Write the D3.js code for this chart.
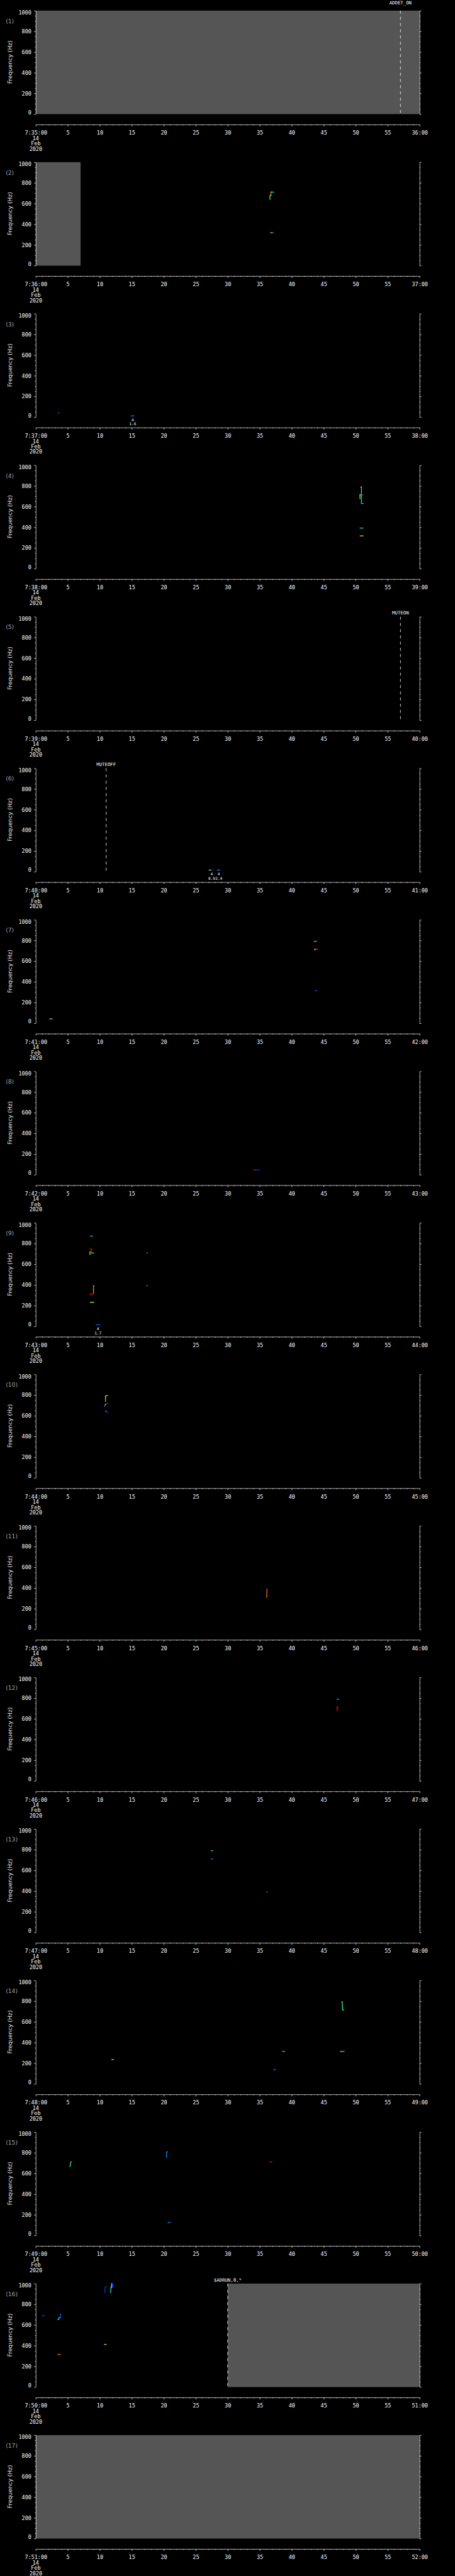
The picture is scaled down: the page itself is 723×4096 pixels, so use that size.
<!DOCTYPE html>
<html>
<head>
<meta charset="utf-8">
<script src="https://cdn.jsdelivr.net/npm/d3@7"></script>
<style>
  html, body { margin: 0; padding: 0; background: #000; }
  svg { display: block; }
</style>
</head>
<body>
<script>
// reference drawing size; the svg viewBox scales it down to the window
const W = 1024, H = 5802;

// one panel per minute
const startLabels = ["7:35:00","7:36:00","7:37:00","7:38:00","7:39:00","7:40:00","7:41:00","7:42:00","7:43:00",
                     "7:44:00","7:45:00","7:46:00","7:47:00","7:48:00","7:49:00","7:50:00","7:51:00"];
const endLabels = ["36:00","37:00","38:00","39:00","40:00","41:00","42:00","43:00","44:00",
                   "45:00","46:00","47:00","48:00","49:00","50:00","51:00","52:00"];
const dateLines = ["14", "Feb", "2020"];
const xMajor = [0, 5, 10, 15, 20, 25, 30, 35, 40, 45, 50, 55, 60];
const yTicks = [0, 200, 400, 600, 800, 1000];

// [panel, from s, to s]  no-data (gray) ranges
const grayRanges = [[1, 0, 60], [2, 0, 7], [16, 30, 60], [17, 0, 60]];

// [panel, second, text, row]  event markers
const events = [[1, 57, "ADDET_ON", 0], [5, 57, "MUTEON", 1], [6, 11, "MUTEOFF", 1], [16, 30, "$ADRUN,0,*", 1]];

// [panel, second, upper text, lower text]  small labels under low-frequency hits
const peakLabels = [[3, 15.15, "4", "1.6"], [6, 27.5, "4", "0.9"], [6, 28.6, "4", "2.4"], [9, 9.72, "4", "1.7"]];

// [panel, level 0..1, [[second, Hz], ...]]
const traces = [
  [2, 0.4, [[36.6, 642], [36.6, 678], [36.76, 678]]],
  [2, 0.8, [[36.76, 678], [36.76, 712], [36.9, 712]]],
  [2, 0.2, [[36.9, 710], [37.2, 710]]],
  [2, 0.7, [[36.7, 318], [37.05, 318]]],
  [2, 0.0, [[37.05, 316], [37.25, 316]]],

  [3, 0.05, [[3.5, 42], [3.65, 42]]],
  [3, 0.1, [[14.9, 12], [15.35, 12]]],

  [4, 0.45, [[50.67, 677], [50.67, 715], [50.85, 715]]],
  [4, 0.25, [[50.9, 789], [50.9, 630], [51.17, 630]]],
  [4, 0.65, [[50.8, 789], [50.92, 789]]],
  [4, 1.0, [[50.92, 712], [51.2, 712]]],
  [4, 0.3, [[50.7, 393], [51.15, 393]]],
  [4, 0.55, [[50.7, 317], [51.15, 317]]],

  [6, 0.55, [[27.1, 16], [27.4, 16]]],
  [6, 0.0, [[27.4, 16], [27.75, 16]]],
  [6, 0.2, [[28.4, 16], [28.6, 16]]],
  [6, 0.05, [[28.6, 16], [28.8, 16]]],

  [7, 0.95, [[2.1, 42], [2.3, 42]]],
  [7, 0.6, [[2.3, 43], [2.4, 43]]],
  [7, 0.15, [[2.4, 42], [2.6, 42]]],
  [7, 0.55, [[43.56, 793], [43.75, 793]]],
  [7, 0.1, [[43.75, 792], [43.95, 792]]],
  [7, 0.95, [[43.6, 716], [44.05, 716]]],
  [7, 0.6, [[43.6, 709], [43.65, 716]]],
  [7, 0.05, [[43.7, 314], [43.95, 314]]],

  [8, 1.0, [[34.03, 50], [34.3, 47]]],
  [8, 0.0, [[34.3, 47], [35.0, 47]]],

  [9, 0.2, [[8.55, 872], [8.85, 872]]],
  [9, 1.0, [[8.5, 748], [8.72, 748], [8.72, 708]]],
  [9, 0.6, [[8.45, 694], [8.5, 723]]],
  [9, 0.25, [[8.72, 709], [9.1, 709]]],
  [9, 0.8, [[9.02, 315], [9.02, 392]]],
  [9, 0.4, [[9.02, 392], [9.08, 392]]],
  [9, 1.0, [[8.5, 310], [8.98, 314]]],
  [9, 0.6, [[8.55, 233], [9.05, 233]]],
  [9, 0.1, [[9.05, 233], [9.15, 233]]],
  [9, 0.05, [[9.45, 15], [10.04, 15]]],
  [9, 0.85, [[17.35, 709], [17.45, 709]]],
  [9, 0.85, [[17.35, 392], [17.45, 392]]],

  [10, 0.45, [[10.9, 741], [10.9, 793], [11.22, 793]]],
  [10, 0.7, [[10.78, 697], [10.95, 716]]],
  [10, 1.0, [[10.95, 716], [11.3, 716]]],
  [10, 0.05, [[10.7, 687], [10.8, 697]]],
  [10, 0.05, [[10.9, 653], [10.95, 637], [11.25, 637]]],

  [11, 0.85, [[36.05, 313], [36.12, 313], [36.12, 390]]],
  [11, 0.0, [[36.12, 392], [36.25, 392]]],

  [12, 0.15, [[47.1, 789], [47.35, 789]]],
  [12, 0.98, [[47.1, 680], [47.1, 714], [47.3, 714]]],

  [13, 0.3, [[27.41, 790], [27.64, 790]]],
  [13, 1.0, [[27.35, 710], [27.5, 710]]],
  [13, 0.05, [[27.5, 710], [27.7, 710]]],
  [13, 0.95, [[36.05, 392], [36.2, 392]]],

  [14, 0.6, [[11.9, 236], [12.13, 236]]],
  [14, 0.1, [[37.2, 138], [37.48, 138]]],
  [14, 0.25, [[38.57, 315], [38.9, 315]]],
  [14, 0.4, [[47.82, 795], [47.9, 795], [47.95, 716], [48.14, 716]]],
  [14, 0.3, [[47.6, 315], [48.2, 315]]],

  [15, 0.35, [[5.33, 667], [5.5, 712]]],
  [15, 0.9, [[5.45, 712], [5.6, 714]]],
  [15, 0.1, [[20.43, 756], [20.43, 808], [20.61, 808]]],
  [15, 0.1, [[20.65, 125], [21.0, 125]]],
  [15, 1.0, [[36.57, 712], [36.94, 712]]],

  [16, 0.05, [[1.06, 690], [1.29, 690]]],
  [16, 0.2, [[3.42, 653], [3.6, 653], [3.6, 672], [3.8, 672]]],
  [16, 0.05, [[3.8, 672], [3.87, 672], [3.87, 709]]],
  [16, 0.85, [[3.45, 315], [3.87, 315]]],
  [16, 0.5, [[10.72, 412], [11.0, 412]]],
  [16, 0.0, [[10.8, 911], [10.85, 968], [11.1, 968]]],
  [16, 0.3, [[11.7, 911], [11.75, 968]]],
  [16, 0.6, [[11.85, 965], [11.85, 1000]]],
  [16, 0.0, [[11.95, 961], [11.95, 1000], [12.08, 1000]]],
  [16, 0.0, [[12.05, 965], [12.05, 995]]]
];

const slotH = H / startLabels.length;
const axisY = 280.5;
const mono = "'DejaVu Sans Mono', 'Liberation Mono', monospace";
const sans = "'DejaVu Sans', 'Liberation Sans', sans-serif";

const x = d3.scaleLinear().domain([0, 60]).range([80.5, 944.5]);
const y = d3.scaleLinear().domain([0, 1000]).range([257, 24]);
const color = d3.scaleLinear()
    .domain([0, 0.2, 0.4, 0.6, 0.8, 1])
    .range(["#0038ff", "#00d8ff", "#30ff90", "#e8ff00", "#ff9000", "#ff0000"]);
const line = d3.line().x(d => x(d[0])).y(d => y(d[1]));

const svg = d3.select("body")
    .append("svg")
    .attr("width", 723)
    .attr("height", 4096)
    .attr("viewBox", [0, 0, W, H]);

svg.append("rect").attr("width", W).attr("height", H).attr("fill", "#000");

const yMinor = d3.range(50, 1000, 50).filter(v => v % 200 !== 0);
const xMinor = d3.range(1, 60).filter(v => v % 5 !== 0);

function styleAxis(g, size) {
    g.attr("color", "#fff")
     .attr("font-family", mono)
     .attr("font-size", size);
}

startLabels.forEach((startLabel, i) => {
    const p = i + 1;
    const g = svg.append("g").attr("transform", `translate(0,${i * slotH})`);

    // gray no-data blocks
    g.selectAll("rect.gap")
        .data(grayRanges.filter(r => r[0] === p))
        .join("rect")
        .attr("class", "gap")
        .attr("x", d => x(d[1]))
        .attr("width", d => x(d[2]) - x(d[1]))
        .attr("y", y(1000))
        .attr("height", y(0) - y(1000))
        .attr("fill", "#555");

    // detections
    g.selectAll("path.trace")
        .data(traces.filter(t => t[0] === p))
        .join("path")
        .attr("class", "trace")
        .attr("fill", "none")
        .attr("stroke", d => color(d[1]))
        .attr("stroke-width", 1.8)
        .attr("stroke-linecap", "square")
        .attr("d", d => line(d[2]));

    // event markers
    const ev = events.filter(e => e[0] === p);
    g.selectAll("line.event")
        .data(ev)
        .join("line")
        .attr("class", "event")
        .attr("x1", d => x(d[1])).attr("x2", d => x(d[1]))
        .attr("y1", y(1000)).attr("y2", y(0))
        .attr("stroke", "#fff")
        .attr("stroke-width", 1.2)
        .attr("stroke-dasharray", "6.5,7.5");
    g.selectAll("text.event")
        .data(ev)
        .join("text")
        .attr("class", "event")
        .attr("x", d => x(d[1]))
        .attr("y", d => d[3] === 0 ? 10 : 19)
        .attr("text-anchor", "middle")
        .attr("font-family", mono)
        .attr("font-size", 10.4)
        .attr("fill", "#fff")
        .text(d => d[2]);

    // small labels under the axis floor
    const pl = peakLabels.filter(l => l[0] === p);
    g.selectAll("text.peakA")
        .data(pl)
        .join("text")
        .attr("class", "peakA")
        .attr("x", d => x(d[1]))
        .attr("y", 266)
        .attr("text-anchor", "middle")
        .attr("font-family", mono)
        .attr("font-size", 8.6)
        .attr("fill", "#fff")
        .text(d => d[2]);
    g.selectAll("text.peakB")
        .data(pl)
        .join("text")
        .attr("class", "peakB")
        .attr("x", d => x(d[1]))
        .attr("y", 275.5)
        .attr("text-anchor", "middle")
        .attr("font-family", mono)
        .attr("font-size", 8.6)
        .attr("fill", "#fff")
        .text(d => d[3]);

    // left y axis
    const gl = g.append("g").attr("transform", `translate(${x(0)},0)`)
        .call(d3.axisLeft(y).tickValues(yTicks).tickSize(4).tickSizeOuter(0).tickPadding(6)
            .tickFormat(d3.format("d")));
    styleAxis(gl, 12);
    gl.selectAll(".tick text")
        .attr("fill", "#fff")
        .attr("dy", d => d === 0 ? "0em" : d === 1000 ? "0.68em" : "0.32em");
    g.append("g").attr("transform", `translate(${x(0)},0)`)
        .call(d3.axisLeft(y).tickValues(yMinor).tickSize(2).tickFormat(""))
        .call(a => a.select(".domain").remove())
        .attr("color", "#fff");

    // right y axis
    g.append("g").attr("transform", `translate(${x(60)},0)`)
        .call(d3.axisRight(y).tickValues(yTicks).tickSize(4).tickSizeOuter(0).tickFormat(""))
        .attr("color", "#fff");
    g.append("g").attr("transform", `translate(${x(60)},0)`)
        .call(d3.axisRight(y).tickValues(yMinor).tickSize(2).tickFormat(""))
        .call(a => a.select(".domain").remove())
        .attr("color", "#fff");

    // time axis
    const gx = g.append("g").attr("transform", `translate(0,${axisY})`)
        .call(d3.axisBottom(x).tickValues(xMajor).tickSize(4.3).tickSizeOuter(0).tickPadding(10.1)
            .tickFormat(v => v === 0 ? startLabel : v === 60 ? endLabels[i] : String(v)));
    styleAxis(gx, 12);
    gx.selectAll(".tick text").attr("fill", "#fff");
    g.append("g").attr("transform", `translate(0,${axisY})`)
        .call(d3.axisBottom(x).tickValues(xMinor).tickSize(2).tickFormat(""))
        .call(a => a.select(".domain").remove())
        .attr("color", "#fff");

    g.selectAll("text.date")
        .data(dateLines)
        .join("text")
        .attr("class", "date")
        .attr("x", x(0))
        .attr("y", (d, k) => axisY + 34.9 + 12 * k)
        .attr("text-anchor", "middle")
        .attr("font-family", mono)
        .attr("font-size", 12)
        .attr("fill", "#fff")
        .text(d => d);

    // y title and panel number
    g.append("text")
        .attr("transform", "translate(27.4,140) rotate(-90)")
        .attr("text-anchor", "middle")
        .attr("font-family", sans)
        .attr("font-size", 13)
        .attr("fill", "#e6e6e6")
        .text("Frequency (Hz)");
    g.append("text")
        .attr("x", 13)
        .attr("y", 52)
        .attr("font-family", sans)
        .attr("font-size", 13)
        .attr("fill", "#a0a0a0")
        .text(`(${p})`);
});
</script>
</body>
</html>
